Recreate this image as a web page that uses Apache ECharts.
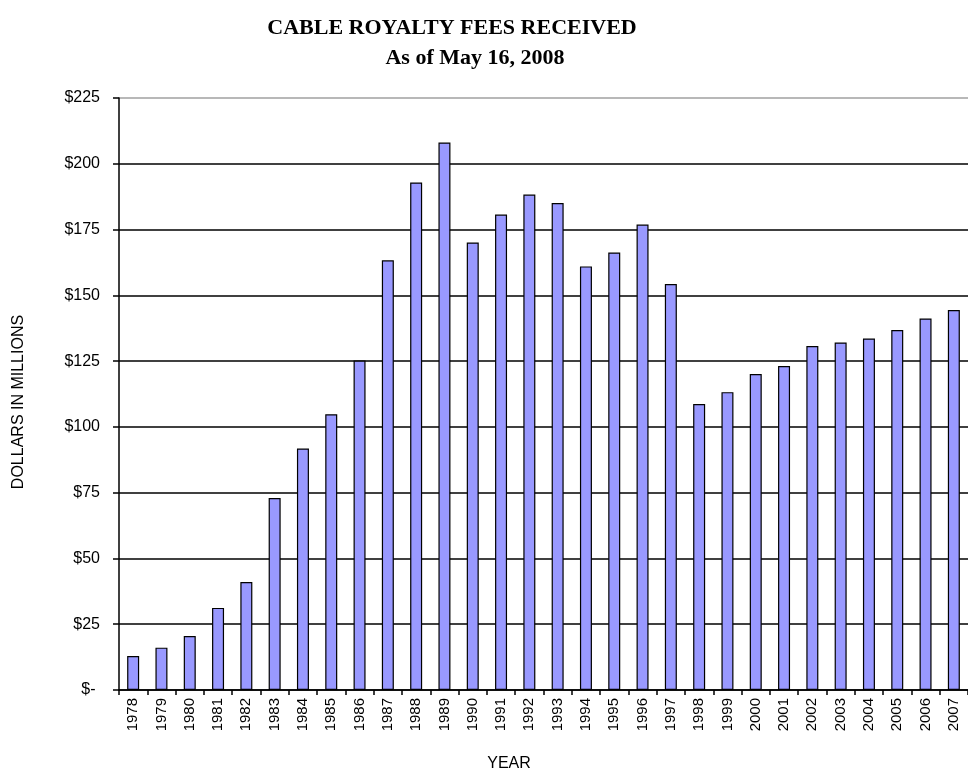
<!DOCTYPE html>
<html>
<head>
<meta charset="utf-8">
<script src="https://cdn.jsdelivr.net/npm/echarts@6/dist/echarts.min.js"></script>
<style>html,body{margin:0;padding:0;background:#fff;}#c{width:968px;height:770px;}</style>
</head>
<body>
<div id="c"></div>
<script>
const years = ['1978','1979','1980','1981','1982','1983','1984','1985','1986','1987','1988','1989','1990','1991','1992','1993','1994','1995','1996','1997','1998','1999','2000','2001','2002','2003','2004','2005','2006','2007'];
const fees = [12.9,16.1,20.5,31.2,41.0,73.0,91.8,104.8,125.2,163.3,192.9,208.1,170.1,180.7,188.3,185.1,161.0,166.3,176.9,154.3,108.7,113.2,120.1,123.1,130.7,132.1,133.6,136.8,141.2,144.4];
const yTicks = [0,25,50,75,100,125,150,175,200,225];
const titleText = 'CABLE ROYALTY FEES RECEIVED';
const subtitleText = 'As of May 16, 2008';
const yName = 'DOLLARS IN MILLIONS';
const xName = 'YEAR';

const chart = echarts.init(document.getElementById('c'), null, {renderer:'canvas'});
const splitColors = yTicks.map((v,i)=> i===yTicks.length-1 ? '#a0a0a0' : '#000');
chart.setOption({
  animation:false,
  backgroundColor:'#fff',
  title:[
    {text:titleText, left:447, top:12, textAlign:'center',
     textStyle:{fontFamily:'Liberation Serif', fontWeight:'bold', fontSize:22, color:'#000'}},
    {text:subtitleText, left:470, top:42, textAlign:'center',
     textStyle:{fontFamily:'Liberation Serif', fontWeight:'bold', fontSize:22, color:'#000'}},
    {text:xName, left:504, top:751, textAlign:'center',
     textStyle:{fontFamily:'Liberation Sans', fontWeight:'normal', fontSize:16, color:'#000'}}
  ],
  graphic:[
    {type:'text', x:19, y:402, rotation:Math.PI/2,
     style:{text:yName, align:'center', verticalAlign:'middle',
       font:'16px "Liberation Sans"', fill:'#000'}}
  ],
  grid:{left:119, top:98, width:858, height:592, containLabel:false},
  xAxis:{
    type:'category', data:years,
    axisLine:{show:true, lineStyle:{color:'#000', width:1.5}},
    axisTick:{show:true, alignWithLabel:false, length:5, lineStyle:{color:'#000', width:1.5}},
    axisLabel:{interval:0, rotate:90, margin:8, fontFamily:'Liberation Sans', fontSize:15, color:'#000'},
    splitLine:{show:false}
  },
  yAxis:{
    type:'value', min:0, max:225, interval:25,
    axisLine:{show:true, lineStyle:{color:'#000', width:1.5}},
    axisTick:{show:true, length:6, lineStyle:{color:'#000', width:1.5}},
    axisLabel:{margin:19, fontFamily:'Liberation Sans', fontSize:16, color:'#000',
      formatter:v=> v===0 ? '$- ' : '$'+v},
    splitLine:{show:true, lineStyle:{color:splitColors, width:1.5}}
  },
  series:[{
    type:'bar', data:fees, barWidth:12,
    itemStyle:{color:'#9999FF', borderColor:'#000', borderWidth:1.2}
  }]
});
</script>
</body>
</html>
